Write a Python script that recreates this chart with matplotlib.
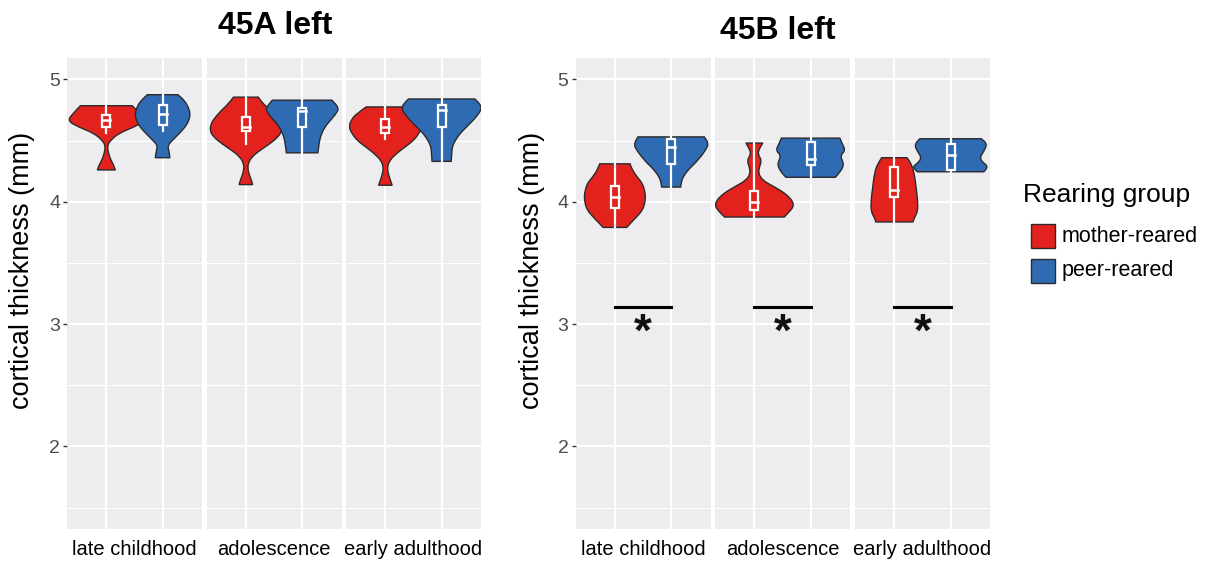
import matplotlib.pyplot as plt
from matplotlib.patches import Rectangle, PathPatch
from matplotlib.path import Path

plt.rcParams['font.family'] = ['Liberation Sans', 'DejaVu Sans']

# datos
stages = ['late childhood', 'adolescence', 'early adulthood']
groups = ['mother-reared', 'peer-reared']
titles = ['45A left', '45B left']
colors = ['#E3221E', '#2F6BB3']

# perfiles de violin: (grosor cortical, semi-ancho) de arriba a abajo
viol_45A_mother = [
    [(4.785, 0.46), (4.72, 0.60), (4.66, 0.69), (4.61, 0.49), (4.56, 0.22), (4.50, 0.07),
     (4.46, 0.02), (4.41, 0.03), (4.35, 0.07), (4.30, 0.13), (4.26, 0.16)],
    [(4.855, 0.22), (4.80, 0.31), (4.75, 0.43), (4.69, 0.545), (4.64, 0.62), (4.58, 0.64),
     (4.53, 0.575), (4.475, 0.43), (4.42, 0.25), (4.365, 0.10), (4.31, 0.04), (4.27, 0.035),
     (4.22, 0.06), (4.175, 0.10), (4.14, 0.12)],
    [(4.775, 0.34), (4.72, 0.515), (4.665, 0.615), (4.61, 0.645), (4.56, 0.60), (4.50, 0.50),
     (4.45, 0.355), (4.395, 0.20), (4.34, 0.08), (4.285, 0.035), (4.23, 0.05), (4.175, 0.09),
     (4.135, 0.12)],
]
viol_45A_peer = [
    [(4.875, 0.27), (4.83, 0.385), (4.77, 0.46), (4.72, 0.49), (4.665, 0.47), (4.61, 0.40),
     (4.56, 0.30), (4.50, 0.17), (4.46, 0.09), (4.42, 0.11), (4.36, 0.13)],
    [(4.83, 0.53), (4.77, 0.65), (4.73, 0.62), (4.68, 0.53), (4.61, 0.40), (4.54, 0.33),
     (4.475, 0.30), (4.40, 0.28)],
    [(4.84, 0.59), (4.80, 0.68), (4.76, 0.71), (4.72, 0.66), (4.665, 0.56), (4.61, 0.44),
     (4.56, 0.33), (4.50, 0.24), (4.45, 0.19), (4.395, 0.18), (4.33, 0.17)],
]
viol_45B_mother = [
    [(4.31, 0.27), (4.26, 0.31), (4.20, 0.40), (4.15, 0.49), (4.09, 0.53), (4.04, 0.545),
     (3.985, 0.53), (3.93, 0.49), (3.875, 0.385), (3.835, 0.30), (3.79, 0.21)],
    [(4.48, 0.15), (4.435, 0.09), (4.39, 0.06), (4.34, 0.13), (4.285, 0.09), (4.23, 0.07),
     (4.175, 0.15), (4.135, 0.30), (4.09, 0.475), (4.05, 0.59), (4.01, 0.67), (3.97, 0.70),
     (3.93, 0.65), (3.875, 0.53)],
    [(4.36, 0.225), (4.31, 0.30), (4.23, 0.355), (4.12, 0.385), (4.01, 0.415), (3.92, 0.415),
     (3.87, 0.355), (3.835, 0.33)],
]
viol_45B_peer = [
    [(4.53, 0.59), (4.475, 0.67), (4.42, 0.61), (4.365, 0.52), (4.31, 0.415), (4.26, 0.30),
     (4.20, 0.21), (4.16, 0.18), (4.12, 0.17)],
    [(4.52, 0.52), (4.475, 0.56), (4.42, 0.62), (4.38, 0.53), (4.34, 0.56), (4.30, 0.59),
     (4.245, 0.53), (4.20, 0.44)],
    [(4.515, 0.545), (4.475, 0.65), (4.41, 0.59), (4.365, 0.52), (4.325, 0.56), (4.285, 0.68),
     (4.245, 0.59)],
]

# cajas: (bigote inf, q1, mediana, q3, bigote sup)
box_45A_mother = [(4.56, 4.61, 4.67, 4.71, 4.785), (4.475, 4.58, 4.61, 4.69, 4.855),
                  (4.51, 4.56, 4.61, 4.68, 4.775)]
box_45A_peer = [(4.58, 4.63, 4.72, 4.79, 4.875), (4.40, 4.61, 4.74, 4.77, 4.83),
                (4.33, 4.61, 4.75, 4.79, 4.84)]
box_45B_mother = [(3.79, 3.95, 4.04, 4.13, 4.31), (3.875, 3.93, 4.00, 4.09, 4.48),
                  (3.835, 4.04, 4.10, 4.28, 4.36)]
box_45B_peer = [(4.12, 4.31, 4.45, 4.51, 4.53), (4.20, 4.30, 4.35, 4.49, 4.52),
                (4.245, 4.26, 4.38, 4.475, 4.515)]

sig_level = 3.14  # barra de significancia en 45B


def smooth_side(pts):
    # curva cuadratica que pasa por los extremos y usa los puntos intermedios como control
    verts = [pts[0]]
    codes = [Path.LINETO]
    if len(pts) > 2:
        mids = [((pts[i][0] + pts[i + 1][0]) / 2, (pts[i][1] + pts[i + 1][1]) / 2)
                for i in range(len(pts) - 1)]
        verts.append(mids[0])
        codes.append(Path.LINETO)
        for i in range(1, len(pts) - 2):
            verts += [pts[i], mids[i]]
            codes += [Path.CURVE3, Path.CURVE3]
        verts += [pts[-2], pts[-1]]
        codes += [Path.CURVE3, Path.CURVE3]
    else:
        verts.append(pts[-1])
        codes.append(Path.LINETO)
    return verts, codes


def violin_path(c, prof):
    right = [(c + w, y) for y, w in prof]
    left = [(c - w, y) for y, w in prof][::-1]
    vr, cr = smooth_side(right)
    vl, cl = smooth_side(left)
    cr[0] = Path.MOVETO
    verts = vr + vl + [right[0]]
    codes = cr + cl + [Path.CLOSEPOLY]
    return Path(verts, codes)


W, H = 1207, 563
fig = plt.figure(figsize=(W / 100, H / 100), dpi=100)
fig.patch.set_facecolor('white')

panel_lefts = [[67, 206.5, 346], [575.5, 715, 855]]
top, bottom = 58, 529
fw = 135

panels = [
    (viol_45A_mother, viol_45A_peer, box_45A_mother, box_45A_peer, False),
    (viol_45B_mother, viol_45B_peer, box_45B_mother, box_45B_peer, True),
]

for p, (vm, vp, bm, bp, sig) in enumerate(panels):
    for s, stage in enumerate(stages):
        x0 = panel_lefts[p][s]
        ax = fig.add_axes([x0 / W, 1 - bottom / H, fw / W, (bottom - top) / H])
        ax.set_facecolor('#EDEDEF')
        for sp in ax.spines.values():
            sp.set_visible(False)
        ax.set_xlim(0.3, 2.7)
        ax.set_ylim(1.325, 5.175)
        ax.set_axisbelow(True)
        for yv in [1.5, 2.5, 3.5, 4.5]:
            ax.axhline(yv, color='white', lw=0.8, zorder=0)
        for yv in [2, 3, 4, 5]:
            ax.axhline(yv, color='white', lw=1.6, zorder=0)
        for xv in [1, 2]:
            ax.axvline(xv, color='white', lw=1.6, zorder=0)

        for g, (prof, box) in enumerate([(vm[s], bm[s]), (vp[s], bp[s])]):
            c = g + 1
            ax.add_patch(PathPatch(violin_path(c, prof), facecolor=colors[g],
                                   edgecolor='#2a2a2a', lw=1.0, zorder=2 + g))
            lo, q1, med, q3, hi = box
            ax.plot([c, c], [lo, q1], color='white', lw=1.6, zorder=2 + g)
            ax.plot([c, c], [q3, hi], color='white', lw=1.6, zorder=2 + g)
            ax.add_patch(Rectangle((c - 0.07, q1), 0.14, q3 - q1, facecolor=colors[g],
                                   edgecolor='white', lw=1.6, zorder=2 + g))
            ax.plot([c - 0.07, c + 0.07], [med, med], color='white', lw=1.8, zorder=2 + g)

        if sig:
            ax.plot([1, 2], [sig_level, sig_level], color='black', lw=2.2, zorder=5)
            ax.text(1.5, 2.82, '*', ha='center', va='baseline', fontsize=33,
                    fontweight='bold', color='#111111', zorder=5)

        ax.set_xticks([])
        ax.set_xlabel(stage, fontsize=14.5, labelpad=8)
        ax.set_yticks([2, 3, 4, 5])
        if s == 0:
            ax.tick_params(axis='y', length=3, width=1, color='#333333', pad=2,
                           labelsize=14, labelcolor='#4D4D4D')
        else:
            ax.tick_params(axis='y', length=0, labelleft=False)

# titulos y etiquetas del eje y
fig.text(275 / W, 1 - 26 / H, titles[0], ha='center', va='center', fontsize=23, fontweight='bold')
fig.text(778 / W, 1 - 31 / H, titles[1], ha='center', va='center', fontsize=23, fontweight='bold')
for xl in [22, 532]:
    fig.text(xl / W, 1 - 270 / H, 'cortical thickness (mm)', rotation=90,
             ha='center', va='center', fontsize=19.5)

# leyenda
fig.text(1023 / W, 1 - 195 / H, 'Rearing group', ha='left', va='center', fontsize=19)
for g, (lab, ky) in enumerate(zip(groups, [224, 259])):
    fig.add_artist(Rectangle((1031 / W, 1 - (ky + 24) / H), 24 / W, 24 / H,
                             facecolor=colors[g], edgecolor='#2a2a2a', lw=1.0,
                             transform=fig.transFigure))
    fig.text(1062 / W, 1 - (ky + 12) / H, lab, ha='left', va='center', fontsize=15.5)

plt.savefig('out.png', dpi=100)
